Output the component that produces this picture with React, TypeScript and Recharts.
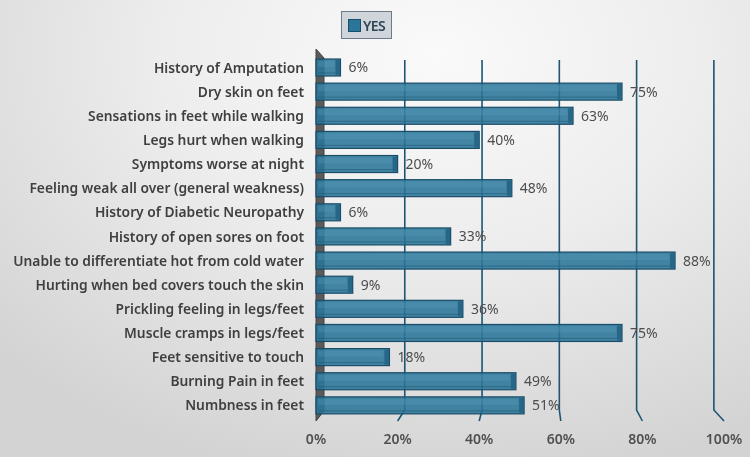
import React from "react";
import { BarChart, Bar, XAxis, YAxis, CartesianGrid, LabelList } from "recharts";

const categories = [
  "History of Amputation",
  "Dry skin on feet",
  "Sensations in feet while walking",
  "Legs hurt when walking",
  "Symptoms worse at night",
  "Feeling weak all over (general weakness)",
  "History of Diabetic Neuropathy",
  "History of open sores on foot",
  "Unable to differentiate hot from cold water",
  "Hurting when bed covers touch the skin",
  "Prickling feeling in legs/feet",
  "Muscle cramps in legs/feet",
  "Feet sensitive to touch",
  "Burning Pain in feet",
  "Numbness in feet",
];
const yesValues = [6, 75, 63, 40, 20, 48, 6, 33, 88, 9, 36, 75, 18, 49, 51];
const xTicks = [0, 20, 40, 60, 80, 100];
const seriesName = "YES";

const data = categories.map((name, i) => ({ name, value: yesValues[i] }));

const FONT = "'Noto Sans', 'Open Sans', sans-serif";
const PLOT_LEFT = 316;

const GridLine = (props: any) => {
  const { x1, y1, y2, index } = props;
  const x = x1;
  if (index === 0) {
    const pts = `${x},${y1 - 6} ${x + 8},${y1 + 3} ${x + 8},${y2 - 6} ${x},${y2 + 4}`;
    return <polygon key={`g${index}`} points={pts} fill="#5a5a5a" stroke="#444" strokeWidth={1} />;
  }
  const xb = 327.5 + (x - PLOT_LEFT) * 0.947;
  const pts = `${xb},${y1 + 5} ${xb},${y2 - 7} ${x},${y2 + 4}`;
  return <polyline key={`g${index}`} points={pts} fill="none" stroke="#1d5573" strokeWidth={1.6} />;
};

const BarShape = (props: any) => {
  const { x, y, width, height } = props;
  if (width <= 0) return null;
  const cap = Math.min(5, width / 3);
  return (
    <g>
      <rect x={x} y={y} width={width} height={height} fill="#2b7598" fillOpacity={0.88} stroke="#1a4d68" strokeWidth={1.2} />
      <rect x={x + 2} y={y + 2} width={Math.max(0, width - cap - 3)} height={height * 0.35} fill="#5a9ebd" fillOpacity={0.3} />
      <line x1={x + 2} y1={y + height - 3} x2={x + width - cap} y2={y + height - 3} stroke="#1d5a78" strokeOpacity={0.6} strokeWidth={1} />
      <rect x={x + width - cap} y={y + 1} width={cap - 0.5} height={height - 2} fill="#1f5f80" fillOpacity={0.8} />
    </g>
  );
};

const XTick = (props: any) => {
  const { x, payload } = props;
  return (
    <text x={x} y={438} textAnchor="middle" dominantBaseline="central" fontFamily={FONT} fontSize={14} fontWeight={600} fill="#505050">
      {payload.value}%
    </text>
  );
};

const YTick = (props: any) => {
  const { y, payload } = props;
  return (
    <text x={304} y={y} textAnchor="end" dominantBaseline="central" fontFamily={FONT} fontSize={13.8} fontWeight={600} fill="#3f3f3f">
      {payload.value}
    </text>
  );
};

export default function App() {
  return (
    <div
      style={{
        position: "fixed",
        left: 0,
        top: 0,
        width: 750,
        height: 457,
        background: "radial-gradient(ellipse 80% 95% at 58% 12%, #fafafa 0%, #ededed 45%, #d3d3d3 100%)",
      }}
    >
      <BarChart
        width={750}
        height={457}
        data={data}
        layout="vertical"
        margin={{ top: 55, right: 26, bottom: 0, left: 0 }}
        barCategoryGap={0}
      >
        <CartesianGrid horizontal={false} vertical={GridLine as any} />
        <XAxis
          type="number"
          domain={[0, 100]}
          ticks={xTicks}
          interval={0}
          axisLine={false}
          tickLine={false}
          height={40}
          tick={<XTick />}
        />
        <YAxis
          type="category"
          dataKey="name"
          width={316}
          axisLine={false}
          tickLine={false}
          interval={0}
          tick={<YTick />}
        />
        <Bar dataKey="value" name={seriesName} barSize={17} isAnimationActive={false} shape={<BarShape />}>
          <LabelList
            dataKey="value"
            position="right"
            offset={8}
            formatter={(v: any) => `${v}%`}
            style={{ fontFamily: FONT, fontSize: 14, fill: "#4d4d4d" }}
          />
        </Bar>
      </BarChart>
      <div
        style={{
          position: "absolute",
          left: 341,
          top: 11,
          width: 51,
          height: 28,
          background: "#cfd5da",
          border: "1px solid #6d7b86",
          display: "flex",
          alignItems: "center",
          boxSizing: "border-box",
          paddingLeft: 6,
          fontFamily: FONT,
          fontWeight: 600,
          fontSize: 14,
          letterSpacing: -0.6,
          color: "#2f4558",
          whiteSpace: "nowrap",
          overflow: "hidden",
        }}
      >
        <span
          style={{
            display: "inline-block",
            flex: "0 0 auto",
            width: 11,
            height: 11,
            background: "#2b7598",
            border: "1px solid #1a4d68",
            marginRight: 2,
          }}
        />
        {seriesName}
      </div>
    </div>
  );
}
